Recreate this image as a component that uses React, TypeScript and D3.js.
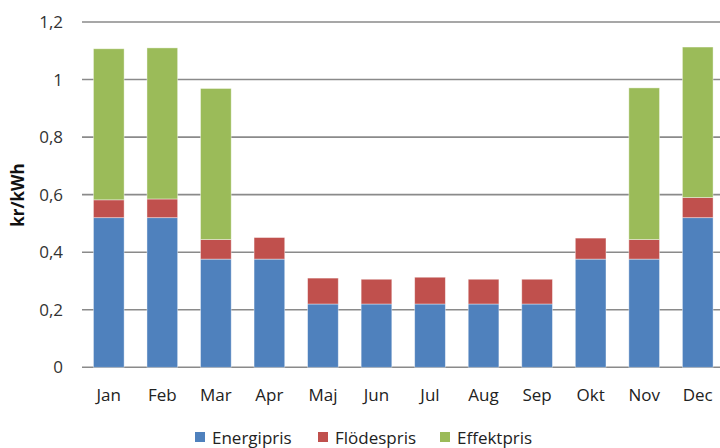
import React from 'react';
import * as d3 from 'd3';

const months = ['Jan', 'Feb', 'Mar', 'Apr', 'Maj', 'Jun', 'Jul', 'Aug', 'Sep', 'Okt', 'Nov', 'Dec'];
const energipris = [0.52, 0.52, 0.376, 0.376, 0.22, 0.22, 0.22, 0.22, 0.22, 0.376, 0.376, 0.52];
const flodespris = [0.062, 0.065, 0.068, 0.075, 0.09, 0.086, 0.093, 0.086, 0.086, 0.073, 0.068, 0.07];
const effektpris = [0.525, 0.525, 0.525, 0, 0, 0, 0, 0, 0, 0, 0.527, 0.523];
const yTicks = [0, 0.2, 0.4, 0.6, 0.8, 1, 1.2];

const seriesNames = ['Energipris', 'Flödespris', 'Effektpris'];
const colors = ['#4F81BD', '#C0504D', '#9BBB59'];

const FONT = '"Open Sans", "Liberation Sans", sans-serif';

export default function App() {
  const width = 720;
  const height = 448;
  // plot area (runs slightly past the right edge, like the original crop)
  const m = { t: 22, l: 82, r: 724.5, b: 367.3 };

  const rows = months.map((mo, i) => ({
    month: mo,
    Energipris: energipris[i],
    'Flödespris': flodespris[i],
    Effektpris: effektpris[i],
  }));
  const stacked = d3.stack<any>().keys(seriesNames)(rows);

  const x = d3.scaleBand().domain(months).range([m.l, m.r]).paddingInner(0.427).paddingOuter(0.2135);
  const y = d3.scaleLinear().domain([0, 1.2]).range([m.b, m.t]);
  const fmt = (v: number) => (v === 0 || v === 1 ? String(v) : v.toFixed(1).replace('.', ','));

  const legendX = [195, 318, 440];

  return (
    <svg width={width} height={height} style={{ display: 'block', position: 'absolute', left: 0, top: 0, background: '#fff' }}>
      {/* grid */}
      {yTicks.map(t => (
        <g key={t}>
          <line x1={m.l} x2={width} y1={y(t)} y2={y(t)} stroke="#8a8a8a" strokeWidth={1.6} />
          <text x={63} y={y(t) + 6} textAnchor="end" fontSize={17} fontFamily={FONT} fill="#333">
            {fmt(t)}
          </text>
        </g>
      ))}

      {/* bars */}
      {stacked.map((s, si) => (
        <g key={s.key} fill={colors[si]}>
          {s.map((d, i) =>
            d[1] - d[0] > 0 ? (
              <rect
                key={i}
                x={x(months[i])}
                width={x.bandwidth()}
                y={y(d[1])}
                height={y(d[0]) - y(d[1])}
                stroke="#fff"
                strokeOpacity={0.5}
                strokeWidth={0.8}
              />
            ) : null
          )}
        </g>
      ))}

      {/* x labels */}
      {months.map(mo => (
        <text key={mo} x={(x(mo) as number) + x.bandwidth() / 2} y={401} textAnchor="middle" fontSize={17} fontFamily={FONT} fill="#222">
          {mo}
        </text>
      ))}

      {/* y title */}
      <text
        transform={`translate(24, 195) rotate(-90)`}
        textAnchor="middle"
        fontSize={17}
        fontWeight="bold"
        fontFamily={FONT}
        fill="#111"
      >
        kr/kWh
      </text>

      {/* legend */}
      {seriesNames.map((n, i) => (
        <g key={n}>
          <rect x={legendX[i]} y={432} width={10} height={10} fill={colors[i]} />
          <text x={legendX[i] + 17} y={444} fontSize={17} fontFamily={FONT} fill="#222">
            {n}
          </text>
        </g>
      ))}
    </svg>
  );
}
